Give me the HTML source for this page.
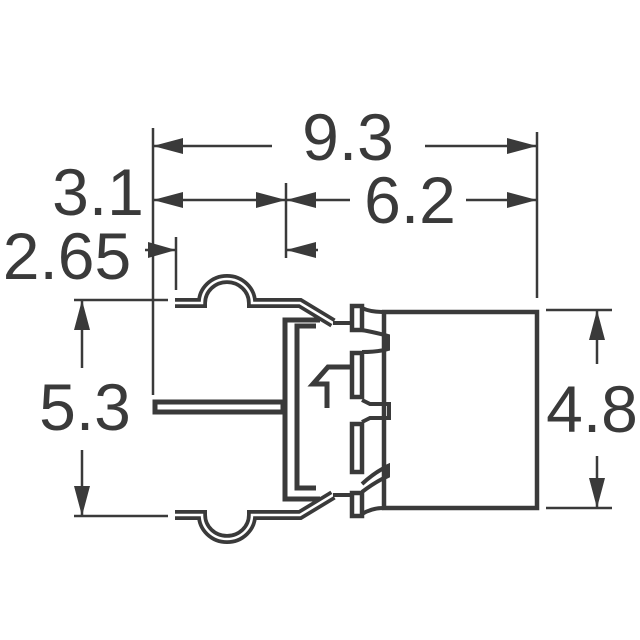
<!DOCTYPE html>
<html><head><meta charset="utf-8"><style>
html,body{margin:0;padding:0;background:#fff;}
svg{display:block;}
text{font-family:"Liberation Sans",Arial,sans-serif;fill:#3a3a3a;font-size:66px;}
</style></head><body>
<svg width="640" height="640" viewBox="0 0 640 640" xmlns="http://www.w3.org/2000/svg">
<g stroke="#3a3a3a" stroke-width="2.5" fill="none">
  <!-- extension lines -->
  <line x1="153" y1="128" x2="153" y2="395"/>
  <line x1="537" y1="132" x2="537" y2="298"/>
  <line x1="286" y1="183" x2="286" y2="258"/>
  <line x1="176" y1="237" x2="176" y2="290"/>
  <!-- 9.3 -->
  <line x1="153" y1="146" x2="272" y2="146"/>
  <line x1="425" y1="146" x2="537" y2="146"/>
  <!-- 3.1 / 6.2 -->
  <line x1="153" y1="200" x2="286" y2="200"/>
  <line x1="286" y1="200" x2="350" y2="200"/>
  <line x1="466" y1="200" x2="537" y2="200"/>
  <!-- 2.65 -->
  <line x1="145" y1="250" x2="176" y2="250"/>
  <line x1="286" y1="250" x2="318" y2="250"/>
  <!-- 5.3 -->
  <line x1="74" y1="300" x2="168" y2="300"/>
  <line x1="74" y1="516" x2="168" y2="516"/>
  <line x1="82" y1="300" x2="82" y2="368"/>
  <line x1="82" y1="450" x2="82" y2="516"/>
  <!-- 4.8 -->
  <line x1="546" y1="310" x2="612" y2="310"/>
  <line x1="546" y1="508" x2="612" y2="508"/>
  <line x1="597" y1="310" x2="597" y2="364"/>
  <line x1="597" y1="456" x2="597" y2="508"/>
</g>
<g fill="#3a3a3a">
  <polygon points="153,146 183,138 183,154"/>
  <polygon points="537,146 507,138 507,154"/>
  <polygon points="153,200 183,192 183,208"/>
  <polygon points="286,200 256,192 256,208"/>
  <polygon points="286,200 316,192 316,208"/>
  <polygon points="537,200 507,192 507,208"/>
  <polygon points="176,250 148,242 148,258"/>
  <polygon points="286,250 316,242 316,258"/>
  <polygon points="82,300 74,330 90,330"/>
  <polygon points="82,516 74,486 90,486"/>
  <polygon points="597,310 589,340 605,340"/>
  <polygon points="597,508 589,478 605,478"/>
</g>
<text x="348" y="160" text-anchor="middle">9.3</text>
<text x="98" y="215" text-anchor="middle">3.1</text>
<text x="410" y="223" text-anchor="middle">6.2</text>
<text x="67" y="279" text-anchor="middle">2.65</text>
<text x="85" y="430" text-anchor="middle">5.3</text>
<text x="592" y="432" text-anchor="middle">4.8</text>

<!-- leads: double line -->
<g fill="none" stroke-linejoin="miter">
  <path id="tl" d="M175,303 H202 A25,24 0 0 1 252,303 H300 L333,323" stroke="#3a3a3a" stroke-width="10"/>
  <path d="M175,303 H202 A25,24 0 0 1 252,303 H300 L333,323" stroke="#fff" stroke-width="2.5"/>
  <path d="M175,515 H202 A25,24 0 0 0 252,515 H300 L333,495" stroke="#3a3a3a" stroke-width="10"/>
  <path d="M175,515 H202 A25,24 0 0 0 252,515 H300 L333,495" stroke="#fff" stroke-width="2.5"/>
  <!-- frame -->
  <path d="M320,320 H285 V499 H320" stroke="#3a3a3a" stroke-width="5"/>
  <path d="M316,326 H297 V488 H316" stroke="#3a3a3a" stroke-width="5"/>
  <!-- middle pin -->
  <rect x="155" y="402" width="128" height="10" stroke="#3a3a3a" stroke-width="5" fill="#fff"/>
  <!-- small latch -->
  <path d="M350,367 H328 L313,384 H327 V408" stroke="#3a3a3a" stroke-width="5"/>
  <!-- connection to strip -->
  <line x1="333" y1="323" x2="352" y2="323" stroke="#3a3a3a" stroke-width="4"/>
  <line x1="333" y1="495" x2="352" y2="495" stroke="#3a3a3a" stroke-width="4"/>
  <!-- body -->
  <rect x="384" y="312" width="153" height="196" stroke="#3a3a3a" stroke-width="4.5"/>
  <!-- strip segments -->
  <rect x="352" y="306" width="10" height="24" stroke="#3a3a3a" stroke-width="4.5" fill="#fff"/>
  <rect x="352" y="353" width="10" height="44" stroke="#3a3a3a" stroke-width="4.5" fill="#fff"/>
  <rect x="352" y="424" width="10" height="48" stroke="#3a3a3a" stroke-width="4.5" fill="#fff"/>
  <rect x="352" y="493" width="10" height="23" stroke="#3a3a3a" stroke-width="4.5" fill="#fff"/>
  <!-- tabs -->
  <path d="M362,308 Q370,312 384,312" stroke="#3a3a3a" stroke-width="4"/>
  <path d="M362,330 Q378,333 388,336 V349 Q378,352 362,352" stroke="#3a3a3a" stroke-width="4"/>
  <path d="M362,400 L370,404 H389 V418 H370 L362,422" stroke="#3a3a3a" stroke-width="4"/>
  <path d="M362,484 Q375,472 388,466 V476 Q375,482 362,492" stroke="#3a3a3a" stroke-width="4"/>
  <path d="M362,514 Q372,508 384,508" stroke="#3a3a3a" stroke-width="4"/>
</g>
</svg>
</body></html>
